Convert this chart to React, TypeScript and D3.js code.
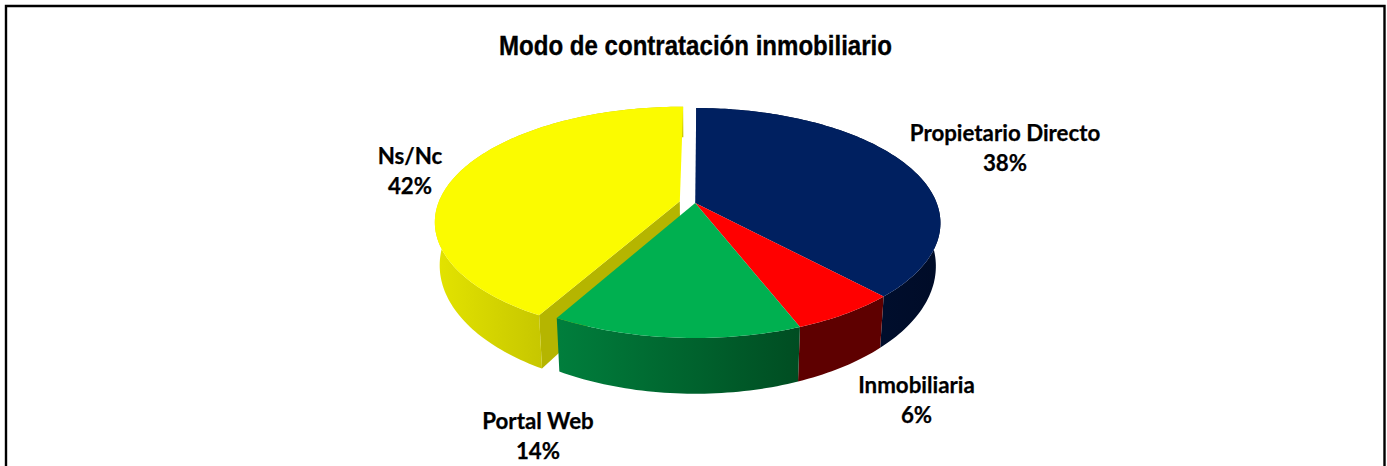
import React from "react";
import * as d3 from "d3";

const categories = ["Propietario Directo", "Inmobiliaria", "Portal Web", "Ns/Nc"];
const shares = [38, 6, 14, 42];
const percentLabels = ["38%", "6%", "14%", "42%"];
const topColors = ["#002060", "#ff0000", "#00b050", "#fbfb00"];
const wallStart = ["#00143c", "#5e0000", "#007e3c", "#e2e200"];
const wallEnd = ["#000c28", "#5e0000", "#004d22", "#c6c600"];
const exploded = [0, 0, 0, 0.066];
const labelX = [1005, 916.5, 538, 410];
const labelY = [140.5, 393, 429, 164];

const W = 1387;
const H = 466;
const k = 0.174;
const topFace = { x0: 695.2, y0: 203, a: 241.5, b: 111.5 };
const botFace = { x0: 695.2, y0: 244, a: 237, b: 123.7 };
type Face = typeof topFace;

function project(f: Face, u: number, v: number): [number, number] {
  const d = 1 - k * v;
  return [f.x0 + (f.a * u) / d, f.y0 + (f.b * v) / d];
}

const rotation = 0.005;
const pieGen = d3.pie<number>().sort(null).startAngle(rotation).endAngle(2 * Math.PI + rotation);
const arcs = pieGen(shares);
const line = d3.line();

function rim(f: Face, a0: number, a1: number, cu: number, cv: number) {
  const n = Math.max(8, Math.ceil((a1 - a0) / 0.02));
  return d3.range(n + 1).map((i) => {
    const t = a0 + ((a1 - a0) * i) / n;
    return project(f, cu + Math.sin(t), cv - Math.cos(t));
  });
}

export default function App() {
  const slices = arcs.map((arc, i) => {
    const mid = (arc.startAngle + arc.endAngle) / 2;
    const cu = exploded[i] * Math.sin(mid);
    const cv = -exploded[i] * Math.cos(mid);
    const topRim = rim(topFace, arc.startAngle, arc.endAngle, cu, cv);
    const botRim = rim(botFace, arc.startAngle, arc.endAngle, cu, cv);
    const apexTop = project(topFace, cu, cv);
    const apexBot = project(botFace, cu, cv);
    return { i, topRim, botRim, apexTop, apexBot };
  });
  const order = [3, 0, 1, 2];
  return (
    <svg
      width={W}
      height={H}
      viewBox={`0 0 ${W} ${H}`}
      style={{ position: "absolute", left: 0, top: 0, display: "block", background: "#fff" }}
    >
      <defs>
        {categories.map((_, i) => {
          const xs = slices[i].botRim.map((p) => p[0]);
          return (
            <linearGradient
              key={i}
              id={`wall${i}`}
              gradientUnits="userSpaceOnUse"
              x1={i === 3 ? 440 : d3.min(xs)}
              x2={i === 3 ? 545 : d3.max(xs)}
              y1={0}
              y2={0}
            >
              <stop offset="0" stopColor={wallStart[i]} />
              <stop offset="1" stopColor={wallEnd[i]} />
            </linearGradient>
          );
        })}
      </defs>

      <path d="M6 466V6H1384.5V466" fill="none" stroke="#000" strokeWidth={2.4} />

      <text
        x={695.5}
        y={55}
        textAnchor="middle"
        fontFamily="'Liberation Sans', Arial, sans-serif"
        fontWeight={700}
        fontSize={28}
        textLength={393}
        lengthAdjust="spacingAndGlyphs"
        fill="#000"
        stroke="#000"
        strokeWidth={0.35}
      >
        Modo de contratación inmobiliario
      </text>

      {order.map((i) => {
        const s = slices[i];
        const cutStart = [s.apexTop, s.topRim[0], s.botRim[0], s.apexBot] as [number, number][];
        const wall = [...s.topRim, ...[...s.botRim].reverse()];
        const top = [s.apexTop, ...s.topRim];
        return (
          <g key={categories[i]}>
            {exploded[i] > 0 && <path d={line(cutStart)! + "Z"} fill="#b5b500" />}
            <path d={line(wall)! + "Z"} fill={`url(#wall${i})`} />
            <path d={line(top)! + "Z"} fill={topColors[i]} />
          </g>
        );
      })}

      {categories.map((c, i) => (
        <text
          key={c}
          textAnchor="middle"
          fontFamily="Lato, 'Open Sans', sans-serif"
          fontWeight={700}
          fontSize={22.3}
          fill="#000"
          stroke="#000"
          strokeWidth={0.25}
        >
          <tspan x={labelX[i]} y={labelY[i]}>{c}</tspan>
          <tspan x={labelX[i]} y={labelY[i] + 30}>{percentLabels[i]}</tspan>
        </text>
      ))}
    </svg>
  );
}
